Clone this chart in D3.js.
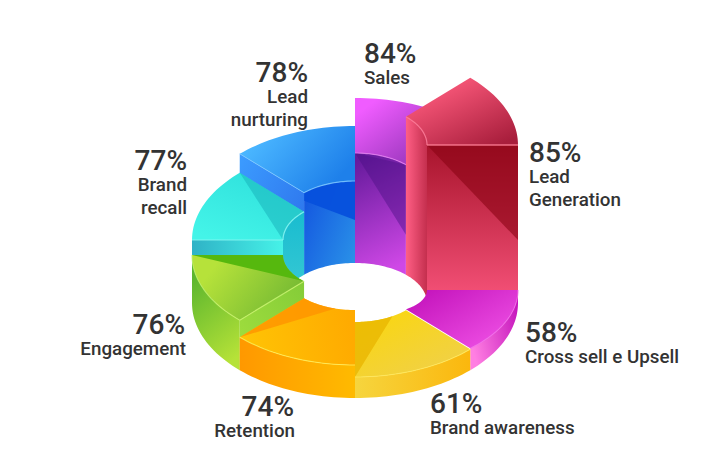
<!DOCTYPE html>
<html><head><meta charset="utf-8">
<script src="https://cdn.jsdelivr.net/npm/d3@7/dist/d3.min.js"></script>
<style>html,body{margin:0;padding:0;background:#fff}svg{display:block}text{font-family:Roboto,sans-serif;fill:#333}</style>
</head><body><svg id="c" width="714" height="476"></svg>
<script>
const categories = ["Sales","Lead Generation","Cross sell e Upsell","Brand awareness","Retention","Engagement","Brand recall","Lead nurturing"];
const values = [84,85,58,61,74,76,77,78];
const riseStart = [110,158,13,21,33,50,63,82];
const riseEnd   = [110,158,22,21,33,48,63,82];

const labelLines = [["Sales"],["Lead","Generation"],["Cross sell e Upsell"],["Brand awareness"],["Retention"],["Engagement"],["Brand","recall"],["Lead","nurturing"]];
const labelSpots = [
 {x:364,y:62,a:"start"},{x:529,y:161,a:"start"},{x:525,y:341,a:"start"},{x:430,y:412,a:"start"},
 {x:295,y:415,a:"end",px:294},{x:186,y:333,a:"end",px:185},{x:187,y:169,a:"end"},{x:308,y:81,a:"end"}];

const palette = [
 {top:["#f05cff","#7d2aa6",[.05,.2,.95,.9]], inner:["#651a9c","#cf48e6",[.3,0,.5,1]], hi:"#e27bf0"},
 {top:["#ff5c7e","#a81e3c",[.2,.1,.9,.95]], inner:["#ff5f85","#c42f4e",[0,.5,1,.5]], radial:["#a8142c","#f7537a",[.5,0,.5,1]], hi:"#ff7f98"},
 {top:["#c414bc","#f052e6",[.05,.1,.95,.9]], outer:["#ff7fe2","#c414bc",[0,.6,1,.2]], hi:"#f06ae8"},
 {top:["#f9d614","#f0d04a",[.2,.1,.9,.9]], outer:["#f6d53e","#fbb70d",[0,.5,1,.5]], hi:"#ffe95a"},
 {top:["#ffc405","#ffaa00",[0,.6,1,.5]], outer:["#ff9800","#ffba00",[0,.5,1,.5]], hi:"#fff05a"},
 {top:["#b6e23a","#6cb432",[.1,.4,1,.8]], outer:["#5cb62e","#b6e238",[.3,.1,.6,1]], radial:["#84cc38","#a4e03e",[1,0,0,1]], hi:"#c8f26a"},
 {top:["#44f4e8","#2ee0dc",[.2,1,.8,0]], inner:["#18bcd0","#3ccad4",[.5,0,.5,1]], radial:["#2fb2c6","#46f2e8",[0,.5,1,.5]], hi:"#8af8f2"},
 {top:["#4ab6ff","#1e80ea",[.1,.3,.9,.7]], inner:["#1458e0","#2a92e8",[0,.2,1,.9]], radial:["#3c9cff","#2a6ce8",[0,0,1,1]], hi:"#7cc8ff"}
];
const paintOrder = [0,7,1,6,5,2,4,3];

const svg = d3.select("#c"), defs = svg.append("defs");
const cx = 355, cy = 303;
const ring = {outer:{rx:163,ry:95}, inner:{rx:72,ry:40}};
const angle = d3.scaleLinear().domain([0,categories.length]).range([-Math.PI/2, 3*Math.PI/2]);
const lift = d3.scaleLinear().domain([0,160]).range([0,160]);
const line = d3.line();

function pt(r,a,h){return [cx+r.rx*Math.cos(a), cy+r.ry*Math.sin(a)-lift(h)];}
function arc(r,a0,a1,h0,h1){
  return d3.range(0,25).map(i=>{const t=i/24;return pt(r,a0+(a1-a0)*t,h0+(h1-h0)*t);});
}
let gid=0;
function grad(spec){
  const id="g"+(gid++), [c0,c1,v]=spec;
  const g=defs.append("linearGradient").attr("id",id).attr("x1",v[0]).attr("y1",v[1]).attr("x2",v[2]).attr("y2",v[3]);
  g.append("stop").attr("offset",0).attr("stop-color",c0);
  g.append("stop").attr("offset",1).attr("stop-color",c1);
  return `url(#${id})`;
}
function face(pts,fill,op){svg.append("path").attr("d",line(pts)+"Z").attr("fill",fill).attr("fill-opacity",op==null?1:op);}
function edge(pts,col,w,op){svg.append("path").attr("d",line(pts)).attr("fill","none").attr("stroke",col).attr("stroke-width",w||1).attr("stroke-opacity",op==null?.85:op);}

const planeShades = {
 3:[4,4,3.3,"#e8b400",.75],
 4:[5,5,4.35,"#ff9400",.8],
 5:[6,6,5,"#56b80e",1],
 6:[7,7,6,"#14a8b4",.45]
};

paintOrder.forEach(i=>{
  const a0=angle(i), a1=angle(i+1), h0=riseStart[i], h1=riseEnd[i], p=palette[i];
  const topIn=arc(ring.inner,a0,a1,h0,h1), topOut=arc(ring.outer,a0,a1,h0,h1);
  const back=Math.sin((a0+a1)/2)<0;
  if(back && p.inner){
    face(topIn.concat(arc(ring.inner,a1,a0,0,0)),grad(p.inner));
    if(i===0) face([pt(ring.inner,a0,h0),pt(ring.inner,a1,h1),pt(ring.inner,a1,40)],"#4c0f86",.45);
    if(i===7) face(topIn.concat([pt(ring.inner,a1,43),pt(ring.inner,a0,h0-8)]),"#0650dc",.95);
  }
  if(!back && p.outer) face(topOut.concat(arc(ring.outer,a1,a0,0,0)),grad(p.outer));
  if(i===1){
    const q=[pt(ring.inner,a1,h1),pt(ring.outer,a1,h1),pt(ring.outer,a1,0),pt(ring.inner,a1,0)];
    face(q,grad(p.radial));
    face([q[0],q[1],pt(ring.outer,a1,63)],"#8a0414",.6);
  }
  if(i===5||i===6||i===7){
    const q=[pt(ring.inner,a0,h0),pt(ring.outer,a0,h0),pt(ring.outer,a0,0),pt(ring.inner,a0,0)];
    face(q,grad(p.radial));
  }
  face(topOut.concat(topIn.slice().reverse()),grad(p.top));
  if(planeShades[i]){
    const s=planeShades[i];
    face([pt(ring.outer,angle(s[0]),riseStart[i]+(s[0]===i?0:riseEnd[i]-riseStart[i]))]
      .concat(arc(ring.inner,angle(s[1]),angle(s[2]),s[1]===i?h0:h1,s[2]===i?h0:h1)),s[3],s[4]);
  }
  if(back){
    edge(topIn,p.hi,1.2);
    if(i===1) edge([pt(ring.inner,a1,h1),pt(ring.outer,a1,h1)],p.hi,1.4);
    if(i===6) edge([pt(ring.inner,a0,h0),pt(ring.outer,a0,h0)],p.hi,1);
    if(i===7) edge([pt(ring.outer,a0,h0),pt(ring.inner,a0,h0)],p.hi,1);
  } else {
    edge(topOut,p.hi,1.1,.8);
    if(i===5) edge([pt(ring.outer,a0,h0),pt(ring.inner,a0,h0)],p.hi,1.2);
  }
});

categories.forEach((c,i)=>{
  const s=labelSpots[i];
  svg.append("text").attr("x",s.px||s.x).attr("y",s.y+.8).attr("text-anchor",s.a).attr("font-size",28).attr("font-weight",500).text(values[i]+"%");
  labelLines[i].forEach((l,k)=>{
    svg.append("text").attr("x",s.x).attr("y",s.y+22*(k+1)+(k?.5:0)).attr("text-anchor",s.a).attr("font-size",18.8).attr("font-weight",500).text(l);
  });
});
</script></body></html>
